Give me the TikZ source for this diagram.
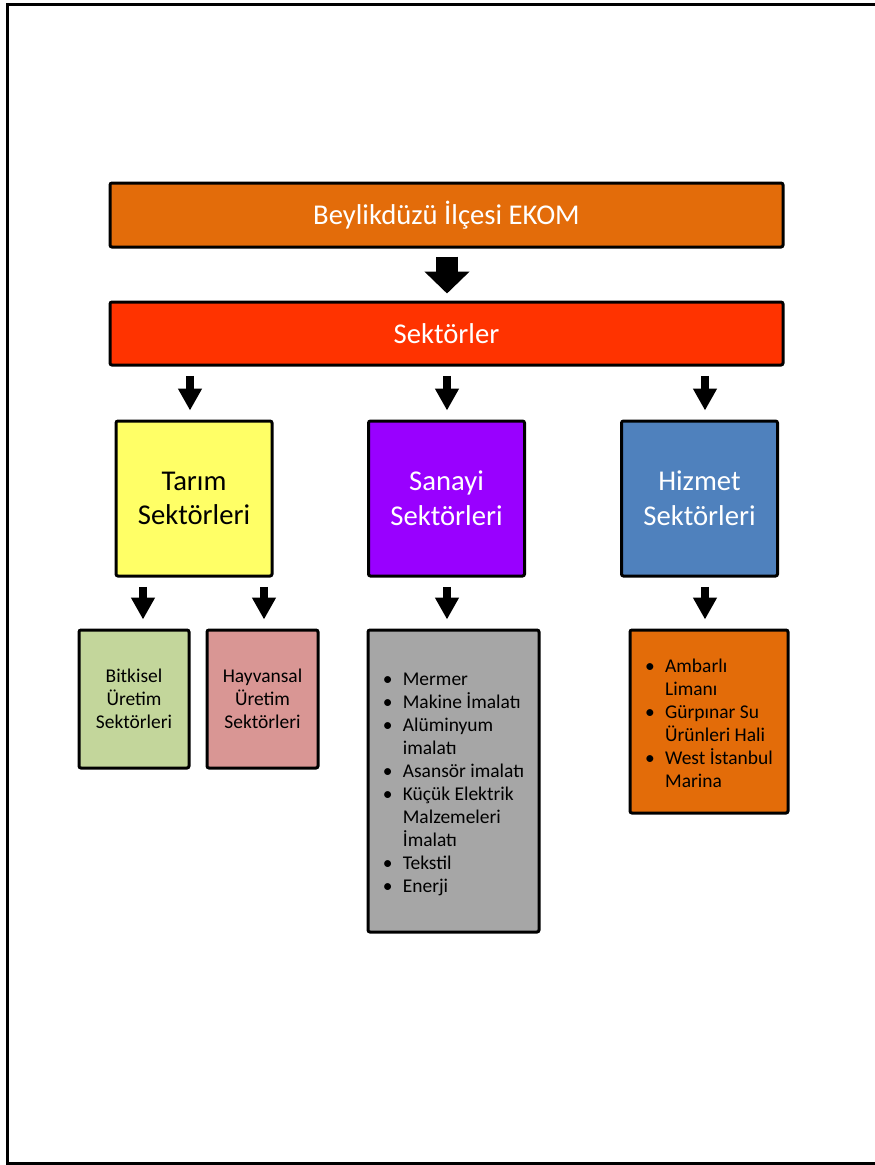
\documentclass[tikz,border=0pt]{standalone}
\usepackage{fontspec}
\setmainfont{Carlito}
\usetikzlibrary{arrows.meta}
\definecolor{ekomorange}{HTML}{E36C0A}
\definecolor{sectorred}{HTML}{FF3300}
\definecolor{tarimyellow}{HTML}{FFFF66}
\definecolor{sanayipurple}{HTML}{9900FF}
\definecolor{hizmetblue}{HTML}{4F81BD}
\definecolor{bitkigreen}{HTML}{C3D69B}
\definecolor{hayvanpink}{HTML}{D99694}
\definecolor{listgray}{HTML}{A6A6A6}
\definecolor{listorange}{HTML}{E36C09}
\tikzset{
  box/.style={draw=black, line width=2.25pt, rounded corners=1.5pt, inner sep=0pt,
    align=center, font=\fontsize{21.5}{26}\selectfont},
  smallbox/.style={box, font=\fontsize{14.6}{17.25}\selectfont},
  bigarrow/.style={-{Triangle[width=33pt,length=16.5pt]}, line width=16.5pt, draw=black,
    shorten <=6pt, shorten >=5.25pt},
  arrow/.style={-{Triangle[width=17pt,length=16.5pt]}, line width=6pt, draw=black,
    shorten <=7pt, shorten >=6.75pt},
  frame/.style={draw=black, line width=2.5pt}
}

\begin{document}
\begin{tikzpicture}[x=0.75pt, y=-0.75pt]
  \useasboundingbox (0,0) rectangle (875,1165);
  \draw[frame] (876,4.5) -- (7.5,4.5) -- (7.5,1164) -- (876,1164);
  % top
  \node[box, fill=ekomorange, text=white, minimum width=504.75pt, minimum height=48pt]
    (ekom) at (446.5,215) {Beylikdüzü İlçesi EKOM};
  \node[box, fill=sectorred, text=white, minimum width=504.75pt, minimum height=47.25pt]
    (sektor) at (446.5,333.5) {Sektörler};
  % sectors
  \node[box, fill=tarimyellow, minimum width=117pt, minimum height=116.25pt]
    (tarim) at (194,498.5) {Tarım\\Sektörleri};
  \node[box, fill=sanayipurple, text=white, minimum width=117pt, minimum height=116.25pt]
    (sanayi) at (446.5,498.5) {Sanayi\\Sektörleri};
  \node[box, fill=hizmetblue, text=white, minimum width=117pt, minimum height=116.25pt]
    (hizmet) at (699.5,498.5) {Hizmet\\Sektörleri};
  % sub sectors
  \node[smallbox, fill=bitkigreen, minimum width=82.5pt, minimum height=103.5pt]
    (bitki) at (134,699) {Bitkisel\\Üretim\\Sektörleri};
  \node[smallbox, fill=hayvanpink, minimum width=83.25pt, minimum height=103.5pt]
    (hayvan) at (262.5,699) {Hayvansal\\Üretim\\Sektörleri};
  \node[smallbox, fill=listgray, minimum width=128.25pt, minimum height=226.5pt]
    (sanlist) at (453.5,781) {\begin{tabular}{@{}p{15pt}@{}l@{}}\noalign{\vspace{4.5pt}}
      \textbullet & Mermer\\
      \textbullet & Makine İmalatı\\
      \textbullet & Alüminyum\\
                  & imalatı\\
      \textbullet & Asansör imalatı\\
      \textbullet & Küçük Elektrik\\
                  & Malzemeleri\\
                  & İmalatı\\
      \textbullet & Tekstil\\
      \textbullet & Enerji
    \end{tabular}};
  \node[smallbox, fill=listorange, minimum width=118.5pt, minimum height=137.25pt]
    (hizlist) at (709,721.5) {\begin{tabular}{@{}p{15pt}@{}l@{}}\noalign{\vspace{6pt}}
      \textbullet & Ambarlı\\
                  & Limanı\\
      \textbullet & Gürpınar Su\\
                  & Ürünleri Hali\\
      \textbullet & West İstanbul\\
                  & Marina
    \end{tabular}};
  % arrow columns
  \coordinate (ta) at (190,0);
  \coordinate (sa) at (447,0);
  \coordinate (hi) at (705,0);
  \coordinate (bi) at (143,0);
  \coordinate (ha) at (264,0);
  \draw[bigarrow] (ekom.south -| sa) -- (sektor.north -| sa);
  \draw[arrow] (sektor.south -| ta) -- (tarim.north -| ta);
  \draw[arrow] (sektor.south -| sa) -- (sanayi.north -| sa);
  \draw[arrow] (sektor.south -| hi) -- (hizmet.north -| hi);
  \draw[arrow] (tarim.south -| bi) -- (bitki.north -| bi);
  \draw[arrow] (tarim.south -| ha) -- (hayvan.north -| ha);
  \draw[arrow] (sanayi.south -| sa) -- (sanlist.north -| sa);
  \draw[arrow] (hizmet.south -| hi) -- (hizlist.north -| hi);
\end{tikzpicture}
\end{document}
